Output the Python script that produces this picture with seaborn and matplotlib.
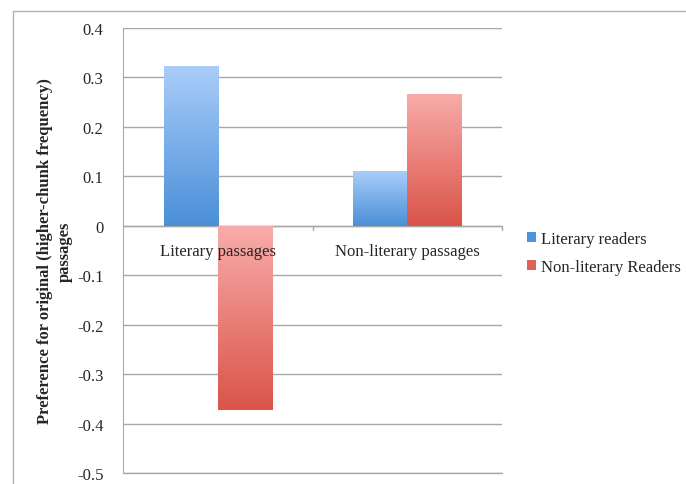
import numpy as np
import pandas as pd
import matplotlib
matplotlib.use("Agg")
import matplotlib.pyplot as plt
from matplotlib.colors import LinearSegmentedColormap
from matplotlib.lines import Line2D
from matplotlib.patches import Patch
import seaborn as sns

categories = ["Literary passages", "Non-literary passages"]
groups = ["Literary readers", "Non-literary Readers"]
literary_readers = [0.323, 0.111]
nonliterary_readers = [-0.372, 0.267]
yticks = [0.4, 0.3, 0.2, 0.1, 0, -0.1, -0.2, -0.3, -0.4, -0.5]
ytick_labels = ["0.4", "0.3", "0.2", "0.1", "0", "-0.1", "-0.2", "-0.3", "-0.4", "-0.5"]

df = pd.DataFrame({
    "passage": categories * 2,
    "reader": [groups[0]] * 2 + [groups[1]] * 2,
    "value": literary_readers + nonliterary_readers,
})

sns.set_style("white")
plt.rcParams["font.family"] = ["Liberation Serif", "DejaVu Serif"]

fig = plt.figure(figsize=(6.86, 4.85), dpi=100)
ax = fig.add_axes([123/686, 11/485, (502-123)/686, (474-29)/485])

blue_mid = "#4f93da"
red_mid = "#e0615a"
sns.barplot(data=df, x="passage", y="value", hue="reader", order=categories,
            hue_order=groups, palette=[blue_mid, red_mid], width=0.57, gap=0,
            ax=ax, legend=False, errorbar=None)

cmaps = {
    0: LinearSegmentedColormap.from_list("b", ["#4a8fd8", "#a9cdf9"]),
    1: LinearSegmentedColormap.from_list("r", ["#da5449", "#f9acaa"]),
}
grad = np.linspace(0, 1, 256).reshape(-1, 1)
for i, cont in enumerate(ax.containers):
    for p in cont.patches:
        x0, y0 = p.get_x(), p.get_y()
        w, h = p.get_width(), p.get_height()
        ylo, yhi = min(y0, y0 + h), max(y0, y0 + h)
        p.set_facecolor("none")
        p.set_edgecolor("none")
        im = ax.imshow(grad, extent=(x0, x0 + w, ylo, yhi), origin="lower",
                       aspect="auto", cmap=cmaps[i], zorder=3)
        im.set_clip_path(p)

ax.set_xlim(-0.5, 1.5)
ax.set_ylim(-0.5, 0.4)
ax.set_yticks(yticks)
ax.set_yticklabels(ytick_labels, fontsize=12)
ax.tick_params(axis="y", length=0, pad=14)
ax.set_xticks([])
ax.set_xlabel("")
ax.yaxis.grid(True, color="#a8a8a8", linewidth=1)
ax.set_axisbelow(True)
for s in ["top", "right", "bottom"]:
    ax.spines[s].set_visible(False)
ax.spines["left"].set_color("#a8a8a8")

ax.axhline(0, color="#a8a8a8", linewidth=1, zorder=2)
ax.axhline(-0.5, color="#a8a8a8", linewidth=1, zorder=2, clip_on=False)
for xt in [0.5, 1.5]:
    ax.plot([xt, xt], [0, -0.008], color="#a8a8a8", lw=1, clip_on=False)

for i, c in enumerate(categories):
    ax.annotate(c, xy=(i, 0), xytext=(0, -18), textcoords="offset points",
                ha="center", va="center", fontsize=12, zorder=5)

ax.set_ylabel("Preference for original (higher-chunk frequency)\npassages",
              fontsize=12, fontweight="bold", labelpad=3, linespacing=1.3)

handles = [Patch(facecolor=blue_mid, edgecolor="none"),
           Patch(facecolor=red_mid, edgecolor="none")]
fig.legend(handles, groups, loc="center left", bbox_to_anchor=(512/686, 1 - 254/485),
           frameon=False, fontsize=12, handlelength=0.55, handleheight=0.55,
           handletextpad=0.3, labelspacing=0.75)

fig.add_artist(Line2D([13/686, 13/686], [0, 1 - 12/485], color="#b0b0b0", lw=1,
                      transform=fig.transFigure))
fig.add_artist(Line2D([13/686, 1], [1 - 12/485, 1 - 12/485], color="#b0b0b0", lw=1,
                      transform=fig.transFigure))

fig.savefig("out.png", dpi=100)
